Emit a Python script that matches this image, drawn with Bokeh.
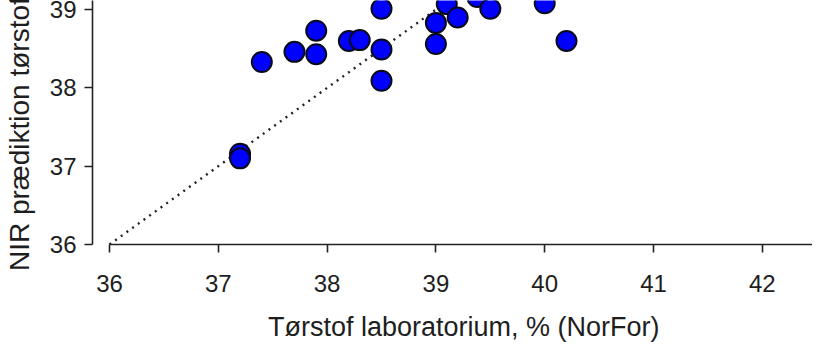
from bokeh.plotting import figure
from bokeh.models import Range1d, FixedTicker
from bokeh.embed import file_html
from bokeh.resources import INLINE

# Data
lab_dm = [37.2, 37.2, 37.4, 37.7, 37.9, 37.9, 38.2, 38.3, 38.5, 38.5, 38.5,
          39.0, 39.0, 39.1, 39.2, 39.38, 39.5, 40.0, 40.2]
nir_dm = [37.16, 37.1, 38.33, 38.46, 38.43, 38.73, 38.60, 38.61, 38.49, 38.09, 39.01,
          38.56, 38.83, 39.07, 38.90, 39.16, 39.01, 39.08, 38.60]
one_to_one = [36, 45]
x_ticks = [36, 37, 38, 39, 40, 41, 42, 43, 44, 45]
y_ticks = [36, 37, 38, 39, 40]
x_title = "Tørstof laboratorium, % (NorFor)"
y_title = "NIR prædiktion tørstof"

FONT = "Liberation Sans"
NBSP = "\u00a0"

p = figure(width=812, height=342, output_backend="svg", toolbar_location=None,
           x_range=Range1d(35.844, 42.461), y_range=Range1d(36.0, 39.116),
           min_border_left=92, min_border_right=0, min_border_top=0,
           min_border_bottom=98)
p.frame_width = 720
p.frame_height = 244
p.outline_line_color = None
p.grid.visible = False
p.background_fill_color = "white"
p.border_fill_color = "white"

p.line(one_to_one, one_to_one, line_color="#222222", line_width=2.4,
       line_dash="2 5")
p.scatter(lab_dm, nir_dm, size=20, fill_color="#0000ff", line_color="#0a0a1e",
          line_width=2)

for ax, ticks in ((p.xaxis[0], x_ticks), (p.yaxis[0], y_ticks)):
    ax.ticker = FixedTicker(ticks=ticks)
    ax.bounds = (36, 45)
    ax.axis_line_color = "#222222"
    ax.axis_line_width = 1.6
    ax.major_tick_line_color = "#222222"
    ax.major_tick_line_width = 1.6
    ax.major_tick_out = 8
    ax.major_tick_in = 0
    ax.minor_tick_line_color = None
    ax.major_label_text_font = FONT
    ax.major_label_text_font_size = "24px"
    ax.major_label_text_color = "#1e1e1e"
    ax.axis_label_text_font = FONT
    ax.axis_label_text_font_style = "normal"
    ax.axis_label_text_color = "#1e1e1e"

p.xaxis[0].major_label_standoff = 22
p.yaxis[0].major_label_standoff = 8
# leading / trailing no-break spaces only nudge the centred titles
p.xaxis[0].axis_label = NBSP * 3 + x_title
p.xaxis[0].axis_label_text_font_size = "27px"
p.xaxis[0].axis_label_standoff = 17
p.yaxis[0].axis_label = y_title + NBSP * 3
p.yaxis[0].axis_label_text_font_size = "28px"
p.yaxis[0].axis_label_standoff = 12

open("out.html", "w").write(file_html(p, INLINE))
